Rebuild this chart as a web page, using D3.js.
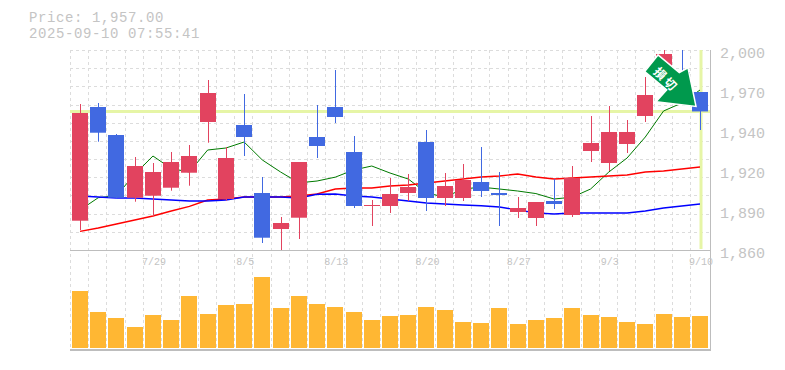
<!DOCTYPE html>
<html><head><meta charset="utf-8">
<script src="https://cdn.jsdelivr.net/npm/d3@7"></script>
<style>html,body{margin:0;padding:0;background:#fff}svg{display:block}text{font-family:"Liberation Mono","DejaVu Sans Mono",monospace}</style>
</head><body><div id="c"></div>
<script>
const dates=["7/23","7/24","7/25","7/28","7/29","7/30","7/31","8/1","8/4","8/5","8/6","8/7","8/8","8/12","8/13","8/14","8/15","8/18","8/19","8/20","8/21","8/22","8/25","8/26","8/27","8/28","8/29","9/1","9/2","9/3","9/4","9/5","9/8","9/9","9/10"];
const open=[1880.5,1960.1,1940.5,1896.6,1898,1903.6,1914.1,1949.6,1895.7,1947.5,1899.9,1874.7,1882.6,1939.1,1960.1,1928.6,1890.8,1890.8,1899.9,1935.6,1896.4,1896.4,1907.6,1899.9,1886.6,1882.4,1894.3,1884.5,1929.3,1920.9,1934.2,1953.8,1986,1984.6,1970.6];
const close=[1955.9,1942.1,1896.6,1918.8,1914.6,1921.6,1925.8,1969.9,1924.4,1939.1,1868.6,1878.9,1921.6,1932.8,1953.1,1890.8,1891.5,1899.2,1904.1,1896.4,1904.8,1909,1901.3,1898.5,1889.4,1893.6,1892.2,1910.4,1934.9,1942.6,1942.6,1968.5,1997.2,1972,1957];
const high=[1962.2,1962.9,1941.2,1925.1,1920.9,1928.6,1933.5,1979,1932.1,1969.2,1911.1,1883.1,1921.6,1961.5,1986,1939.8,1895,1910.4,1913.2,1944,1913.9,1920.2,1932.1,1914.6,1897.1,1893.6,1909.7,1918.8,1953.8,1960.8,1951,1981.1,2005,2010,1970.6];
const low=[1874,1935.8,1895.9,1893.8,1883.8,1901.5,1905,1935.1,1894.5,1925.8,1864.9,1859.3,1867.7,1924.4,1948.9,1889.4,1876.8,1885.9,1894.3,1887.3,1890.8,1894.3,1897.1,1876.8,1882.4,1876.8,1888.7,1883.1,1921.6,1915.3,1927.9,1949.6,1980,1984.6,1944];
const volume=[57,36,30,21,33,28,52,34,43,44,71,40,52,44,41,36,28,32,33,41,38,26,25,40,24,28,30,40,33,31,26,24,34,31,32];
const maShort=[1888,1896.6,1898,1913,1925.8,1917,1914.6,1930,1931.4,1935.6,1923,1914.6,1907,1908.3,1911,1916,1918.8,1913.9,1909.7,1900,1897,1902.7,1904,1902.7,1901.3,1899.5,1895.7,1897,1902.7,1914.6,1924.4,1939.1,1957.3,1962.9,1972];
const maMid=[1873,1875.4,1878.2,1881,1883.8,1887.3,1890.5,1895,1895.7,1897.1,1897.1,1897.1,1897.8,1899.2,1902.7,1903.4,1903.4,1904.8,1905.5,1906.9,1908.3,1909.7,1911.1,1911.8,1913.2,1911.1,1909.7,1910.4,1911.1,1911.8,1912.5,1914.6,1915.3,1916.7,1918.1];
const maLong=[1897.8,1897.1,1896.4,1896.4,1895.7,1895,1894.3,1894.3,1895,1897.1,1897.1,1897.1,1896.4,1899,1899.2,1897.8,1897.1,1895.7,1894.3,1892.9,1892.2,1891.5,1891,1890.1,1888,1886,1885.2,1885.9,1885.9,1885.9,1885.9,1887.3,1889.4,1890.8,1892.2];
const priceTicks=[1860,1888,1916,1944,1972,2000];
const xLabels=["7/29","8/5","8/13","8/20","8/27","9/3","9/10"];
const currentPrice=1957;
const titleLines=["Price: 1,957.00","2025-09-10 07:55:41"];
const arrowLabel="損切";

const W=785,H=370,L=70.5,B=250,VB=348;
const svg=d3.select("#c").append("svg").attr("width",W).attr("height",H);
const x=d3.scaleBand().domain(dates).range([70.9,70.9+18.235*35]).padding(0);
const cx=d=>x(d)+x.bandwidth()/2;
const y=d3.scaleLinear().domain([1860,2000]).range([B,50]);
const yv=d3.scaleLinear().domain([0,71]).range([VB,277]);
const grey="#c4c4c4",gridC="#dcdcdc",axisC="#bdbdbd";

// grid
const grid=svg.append("g").attr("stroke",gridC).attr("stroke-dasharray","3 3").attr("fill","none");
d3.range(0,35).forEach(i=>{const g=Math.round(L+i*18.235-.5)+.5;grid.append("line").attr("x1",g).attr("x2",g).attr("y1",50).attr("y2",350);});
d3.range(0,11).forEach(i=>{const g=Math.round(50+i*200/11)+.5;grid.append("line").attr("x1",70).attr("x2",710).attr("y1",g).attr("y2",g);});

// current price lines
const yellow="#e6f5a6";
svg.append("line").attr("x1",70).attr("x2",710).attr("y1",y(currentPrice)).attr("y2",y(currentPrice)).attr("stroke",yellow).attr("stroke-width",3);
svg.append("line").attr("x1",cx("9/10")+1).attr("x2",cx("9/10")+1).attr("y1",50).attr("y2",249).attr("stroke",yellow).attr("stroke-width",3);

// clip
svg.append("clipPath").attr("id","plot").append("rect").attr("x",70).attr("y",50).attr("width",640).attr("height",200);
const plot=svg.append("g").attr("clip-path","url(#plot)");
const idx=dates.map((d,i)=>i);
const upC="#e2435f",dnC="#4169e1";
const col=i=>close[i]>=open[i]?upC:dnC;
// moving averages (behind the candles)
const ln=a=>d3.line().x((v,i)=>cx(dates[i])).y(v=>y(v))(a);
plot.append("path").attr("d",ln(maShort)).attr("fill","none").attr("stroke","#007a00").attr("stroke-width",1);
plot.append("path").attr("d",ln(maMid)).attr("fill","none").attr("stroke","#f00").attr("stroke-width",1.4);
plot.append("path").attr("d",ln(maLong)).attr("fill","none").attr("stroke","#00f").attr("stroke-width",1.4);
// wicks
plot.append("g").selectAll("line").data(idx).join("line")
 .attr("x1",i=>Math.round(cx(dates[i]))+.5).attr("x2",i=>Math.round(cx(dates[i]))+.5)
 .attr("y1",i=>y(high[i])).attr("y2",i=>y(low[i])).attr("stroke",col);
// bodies
plot.append("g").selectAll("rect").data(idx).join("rect")
 .attr("x",i=>Math.round(cx(dates[i]))-8).attr("width",16)
 .attr("y",i=>y(Math.max(open[i],close[i])))
 .attr("height",i=>Math.max(1,Math.abs(y(open[i])-y(close[i]))))
 .attr("fill",col);

// volume
svg.append("g").selectAll("rect").data(idx).join("rect")
 .attr("x",i=>Math.round(cx(dates[i]))-8).attr("width",16)
 .attr("y",i=>yv(volume[i])).attr("height",i=>VB-yv(volume[i]))
 .attr("fill","#ffb733");

// frame
const fr=svg.append("g").attr("stroke",axisC).attr("fill","none");
fr.append("line").attr("x1",70).attr("x2",711).attr("y1",250.5).attr("y2",250.5);
fr.append("line").attr("x1",70).attr("x2",711).attr("y1",350).attr("y2",350).attr("stroke-width",2);
fr.append("line").attr("x1",710.5).attr("x2",710.5).attr("y1",50).attr("y2",351);

// arrow anchored on the last close
const tipX=cx("9/10")-4,tipY=y(close[34])-5;
const arrowPts=[[0,0],[-8,-38.5],[-16.7,-33.8],[-38,-51.5],[-51.3,-34.8],[-29.3,-16.5],[-40,-4.8]];
const ar=svg.append("g").attr("transform",`translate(${tipX},${tipY})`);
ar.append("path").attr("d","M"+arrowPts.map(p=>p.join(",")).join("L")+"Z").attr("fill","#00994d").attr("stroke","#fff").attr("stroke-width",1.5);
ar.append("text").attr("transform","translate(-29,-27.5) rotate(45)").attr("text-anchor","middle").attr("dominant-baseline","central")
 .attr("fill","#fff").attr("font-size",12).attr("font-weight",700).attr("letter-spacing",2.6).style("font-family","'Noto Sans CJK JP'").text(arrowLabel);

// axes
const ya=svg.append("g").attr("transform","translate(720,3)").call(d3.axisRight(y).tickValues(priceTicks).tickSize(0).tickPadding(0).tickFormat(v=>d3.format(",")(Math.round(v/10)*10)));
ya.select(".domain").remove();
ya.selectAll("text").attr("font-size",15).attr("fill",grey).style("font-family",'"Liberation Mono",monospace');
const xa=svg.append("g").attr("transform","translate(1,253)").call(d3.axisBottom(x).tickValues(xLabels).tickSize(0).tickPadding(5));
xa.select(".domain").remove();
xa.selectAll("text").attr("font-size",10).attr("fill",grey).style("font-family",'"Liberation Mono",monospace');

// title
const ttl=svg.append("g").attr("fill",grey);
ttl.selectAll("text").data(titleLines).join("text").attr("x",29).attr("y",(d,i)=>22+i*16).attr("font-size",14).attr("letter-spacing",0.6).text(d=>d);
</script></body></html>
